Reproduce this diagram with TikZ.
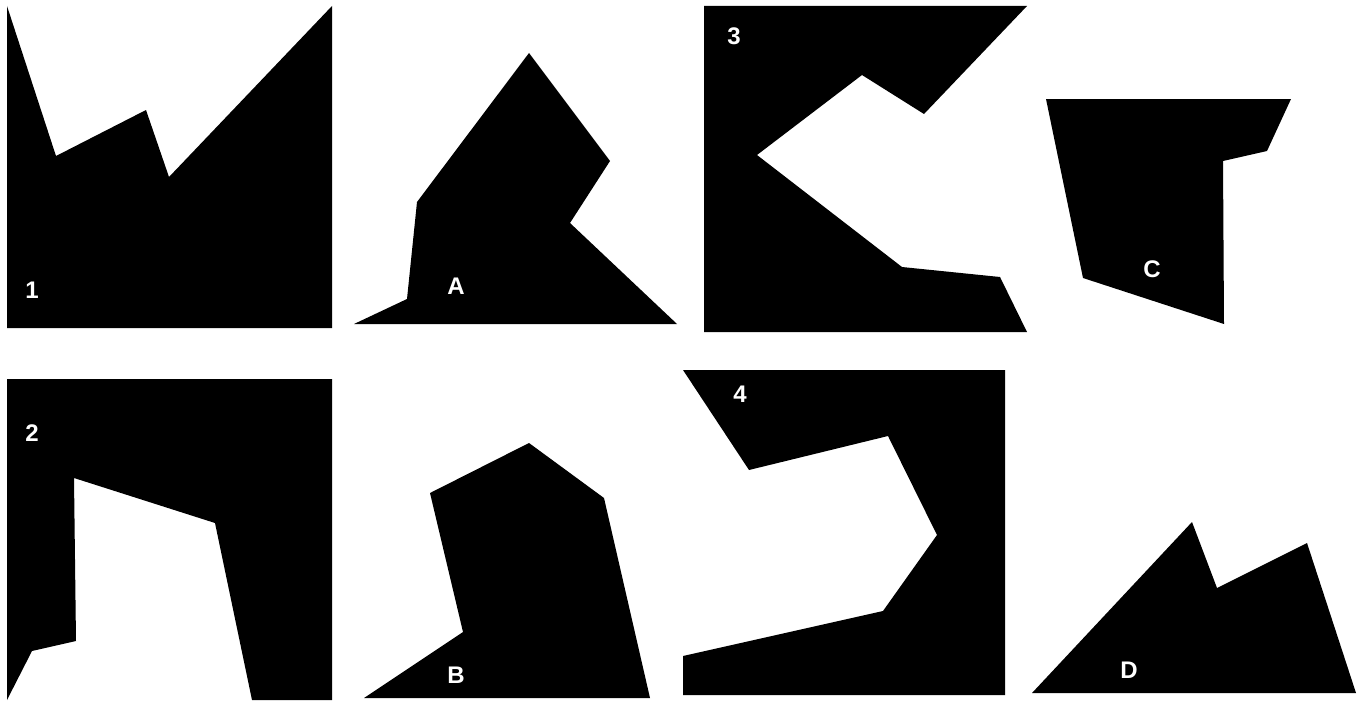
\documentclass[tikz,border=0pt]{standalone}
\usepackage{fontspec}
\setmainfont{Liberation Sans}
\usepackage{tikz}
\usetikzlibrary{positioning}
\definecolor{shapeblack}{RGB}{0,0,0}
\definecolor{labelwhite}{RGB}{255,255,255}
\tikzset{
  piece/.style={fill=shapeblack,draw=none},
  tag/.style={text=labelwhite,font=\fontsize{24}{24}\selectfont\bfseries,inner sep=0pt}
}

\begin{document}
\begin{tikzpicture}[x=1pt,y=-1pt]
  \useasboundingbox (0,0) rectangle (1368,701);

  %% top row
  \fill[piece] (7,6) -- (56,156) -- (146,110) -- (169,177) -- (332,6)
    -- (332,328) -- (7,328) -- cycle;
  \node[tag] (n1) at (32,290) {1};

  \fill[piece] (529,53) -- (610,161) -- (570,223) -- (677,324)
    -- (354,324) -- (407,299) -- (417,202) -- cycle;
  \node[tag] (nA) at (456,286) {A};

  \fill[piece] (704,6) -- (1027,6) -- (924,114) -- (862,75) -- (757,155)
    -- (902,267) -- (1000,277) -- (1027,332) -- (704,332) -- cycle;
  \node[tag] (n3) at (734,36) {3};

  \fill[piece] (1046,99) -- (1291,99) -- (1267,151) -- (1223,161)
    -- (1224,324) -- (1083,278) -- cycle;
  \node[tag] (nC) at (1152,269) {C};

  %% bottom row
  \fill[piece] (7,379) -- (332,379) -- (332,700) -- (252,700) -- (215,523)
    -- (74,478) -- (76,641) -- (32,651) -- (7,700) -- cycle;
  \node[tag] (n2) at (32,433) {2};

  \fill[piece] (529,443) -- (604,498) -- (650,698) -- (364,698)
    -- (463,632) -- (430,493) -- cycle;
  \node[tag] (nB) at (456,675) {B};

  \fill[piece] (683,370) -- (1005,370) -- (1005,695) -- (683,695) -- (683,656)
    -- (883,611) -- (937,535) -- (888,436) -- (749,470) -- cycle;
  \node[tag] (n4) at (740,394) {4};

  \fill[piece] (1192,522) -- (1217,588) -- (1307,543) -- (1356,693)
    -- (1032,693) -- cycle;
  \node[tag] (nD) at (1129,670) {D};
\end{tikzpicture}
\end{document}
